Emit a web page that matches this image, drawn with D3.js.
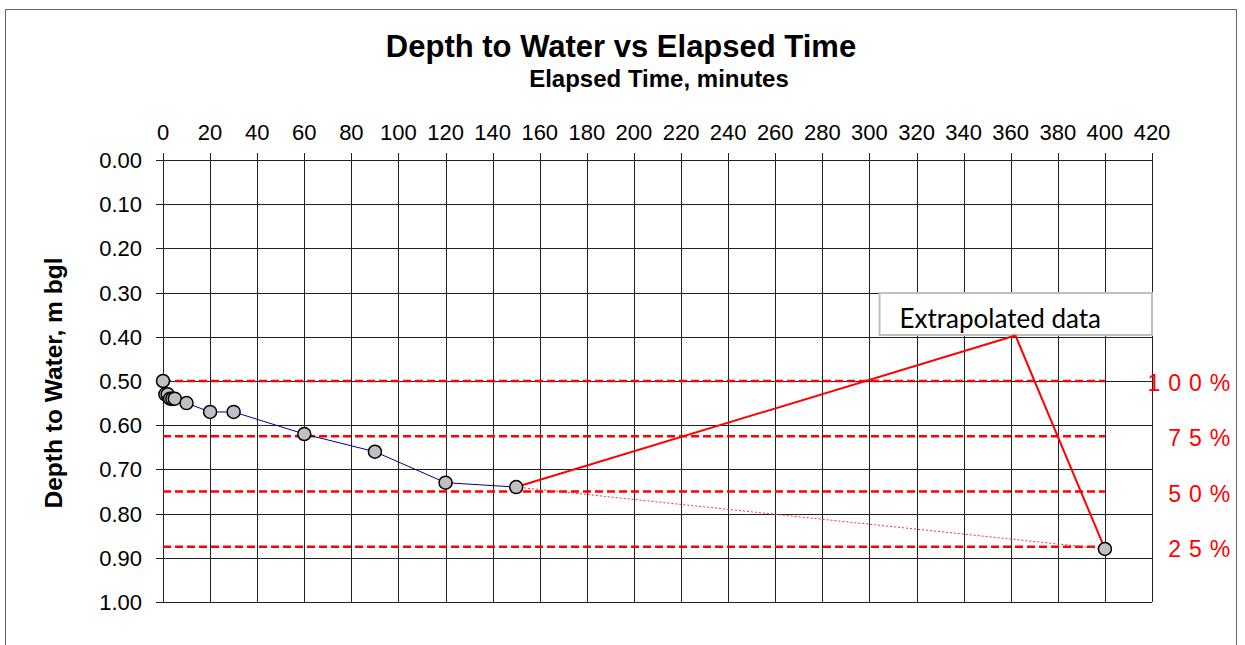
<!DOCTYPE html>
<html><head><meta charset="utf-8">
<script src="https://cdn.jsdelivr.net/npm/d3@7"></script>
<style>body{margin:0;background:#fff}svg{display:block}</style>
</head><body>
<script>
const timeMin = [0,1,2,3,4,5,10,20,30,60,90,120,150];
const depthM = [0.50,0.53,0.53,0.54,0.54,0.54,0.55,0.57,0.57,0.62,0.66,0.73,0.74];
const extrapTime = [150,400];
const extrapDepth = [0.74,0.88];
const recoveryLevels = [0.50,0.625,0.75,0.875];
const recoveryLabels = ["1 0 0 %","7 5 %","5 0 %","2 5 %"];
const xTicks = d3.range(0,421,20);
const yTicks = d3.range(0,1.0001,0.1);
const calloutText = "Extrapolated data";
const calloutBoxX = [304.3,420];
const calloutBoxY = [0.301,0.396];
const calloutTip = [362,0.397];

const W=1245,H=645;
const svg=d3.select("body").append("svg").attr("width",W).attr("height",H);
svg.append("rect").attr("x",5.5).attr("y",9.5).attr("width",1231).attr("height",660)
  .attr("fill","#fff").attr("stroke","#666").attr("stroke-width",1);

const x=d3.scaleLinear().domain([0,420]).range([163,1152]);
const y=d3.scaleLinear().domain([0,1]).range([160,602]);
const font="'Liberation Sans', Arial, sans-serif";

// grid
svg.append("g").selectAll("line").data(xTicks).join("line")
  .attr("x1",d=>Math.round(x(d))+0.5).attr("x2",d=>Math.round(x(d))+0.5)
  .attr("y1",y(0)-7).attr("y2",y(1)).attr("stroke","#222").attr("stroke-width",1);
svg.append("g").selectAll("line").data(yTicks).join("line")
  .attr("y1",d=>Math.round(y(d))+0.5).attr("y2",d=>Math.round(y(d))+0.5)
  .attr("x1",x(0)-7).attr("x2",x(420)).attr("stroke","#222").attr("stroke-width",1);

// tick labels
svg.append("g").selectAll("text").data(xTicks).join("text")
  .attr("x",d=>x(d)).attr("y",140).attr("text-anchor","middle")
  .attr("font-family",font).attr("font-size",22).attr("fill","#000").text(d=>d);
svg.append("g").selectAll("text").data(yTicks).join("text")
  .attr("x",142).attr("y",d=>y(d)+8).attr("text-anchor","end")
  .attr("font-family",font).attr("font-size",22).attr("fill","#000").text(d=>d3.format(".2f")(d));

// titles
svg.append("text").attr("x",621).attr("y",57).attr("text-anchor","middle")
  .attr("font-family",font).attr("font-weight","bold").attr("font-size",31).text("Depth to Water vs Elapsed Time");
svg.append("text").attr("x",659).attr("y",87).attr("text-anchor","middle")
  .attr("font-family",font).attr("font-weight","bold").attr("font-size",24).text("Elapsed Time, minutes");
svg.append("text").attr("transform","translate(62,383) rotate(-90)").attr("text-anchor","middle")
  .attr("font-family",font).attr("font-weight","bold").attr("font-size",24.5).text("Depth to Water, m bgl");

// recovery levels
svg.append("g").selectAll("line").data(recoveryLevels).join("line")
  .attr("x1",x(0)).attr("x2",x(400)).attr("y1",d=>y(d)).attr("y2",d=>y(d))
  .attr("stroke","#ff0000").attr("stroke-width",2.5).attr("stroke-dasharray","8,4");
svg.append("g").selectAll("text").data(recoveryLevels).join("text")
  .attr("x",1231).attr("y",d=>y(d)+10).attr("text-anchor","end")
  .attr("font-family",font).attr("font-size",23).attr("letter-spacing",0.8).attr("fill","#ff0000")
  .text((d,i)=>recoveryLabels[i]);

// extrapolation dotted
const ext=extrapTime.map((t,i)=>[t,extrapDepth[i]]);
svg.append("path").datum(ext).attr("d",d3.line().x(d=>x(d[0])).y(d=>y(d[1])))
  .attr("fill","none").attr("stroke","#ff3030").attr("stroke-width",1).attr("stroke-dasharray","2,2");

// data line
const pts=timeMin.map((t,i)=>[t,depthM[i]]);
svg.append("path").datum(pts).attr("d",d3.line().x(d=>x(d[0])).y(d=>y(d[1])))
  .attr("fill","none").attr("stroke","#000080").attr("stroke-width",1);

// callout
const bx0=x(calloutBoxX[0]),bx1=x(calloutBoxX[1]),by0=y(calloutBoxY[0]),by1=y(calloutBoxY[1]);
svg.append("rect").attr("x",bx0).attr("y",by0).attr("width",bx1-bx0).attr("height",by1-by0)
  .attr("fill","#fff").attr("stroke","#bfbfbf").attr("stroke-width",2);
svg.append("text").attr("x",bx0+20).attr("y",by0+35).attr("font-family","Lato, 'Open Sans', sans-serif")
  .attr("font-size",26).attr("fill","#000").text(calloutText);
const tip=[x(calloutTip[0]),y(calloutTip[1])];
[[extrapTime[0],extrapDepth[0]],[extrapTime[1],extrapDepth[1]]].forEach(p=>{
  svg.append("line").attr("x1",tip[0]).attr("y1",tip[1]).attr("x2",x(p[0])).attr("y2",y(p[1]))
    .attr("stroke","#ff0000").attr("stroke-width",2);
});

// markers
const allPts=pts.concat([[extrapTime[1],extrapDepth[1]]]);
svg.append("g").selectAll("circle").data(allPts).join("circle")
  .attr("cx",d=>x(d[0])).attr("cy",d=>y(d[1])).attr("r",6.5)
  .attr("fill","#c0c0c0").attr("stroke","#000").attr("stroke-width",1.5);
</script>
</body></html>
